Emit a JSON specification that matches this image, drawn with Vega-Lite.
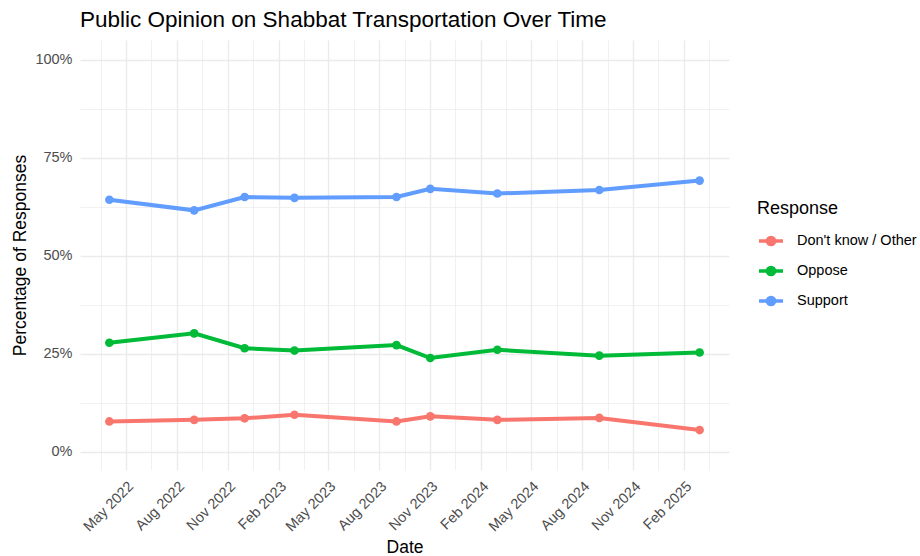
{
  "$schema": "https://vega.github.io/schema/vega-lite/v6.json",
  "width": 649,
  "height": 430,
  "autosize": {"type": "none"},
  "padding": {"left": 80, "top": 40, "right": 191, "bottom": 86},
  "background": "white",
  "title": {
    "text": "Public Opinion on Shabbat Transportation Over Time",
    "anchor": "start",
    "frame": "group",
    "baseline": "alphabetic",
    "offset": 13,
    "dy": 22,
    "fontSize": 22.5,
    "fontWeight": "normal",
    "font": "Liberation Sans",
    "color": "black"
  },
  "config": {
    "view": {"stroke": null},
    "font": "Liberation Sans",
    "axis": {
      "domain": false,
      "ticks": false,
      "gridColor": "#EBEBEB",
      "labelColor": "#4D4D4D",
      "labelFontSize": 14.5,
      "titleColor": "black",
      "titleFontSize": 17.5,
      "titleFontWeight": "normal"
    }
  },
  "data": {
    "values": [
      {"date": "2022-04-01", "response": "Support", "value": 64.3},
      {"date": "2022-09-01", "response": "Support", "value": 61.6},
      {"date": "2022-12-01", "response": "Support", "value": 65.0},
      {"date": "2023-03-01", "response": "Support", "value": 64.8},
      {"date": "2023-09-01", "response": "Support", "value": 65.0},
      {"date": "2023-11-01", "response": "Support", "value": 67.1},
      {"date": "2024-03-01", "response": "Support", "value": 65.9},
      {"date": "2024-09-01", "response": "Support", "value": 66.8},
      {"date": "2025-03-01", "response": "Support", "value": 69.2},
      {"date": "2022-04-01", "response": "Oppose", "value": 27.8},
      {"date": "2022-09-01", "response": "Oppose", "value": 30.2},
      {"date": "2022-12-01", "response": "Oppose", "value": 26.4},
      {"date": "2023-03-01", "response": "Oppose", "value": 25.8},
      {"date": "2023-09-01", "response": "Oppose", "value": 27.2},
      {"date": "2023-11-01", "response": "Oppose", "value": 23.9},
      {"date": "2024-03-01", "response": "Oppose", "value": 26.0},
      {"date": "2024-09-01", "response": "Oppose", "value": 24.5},
      {"date": "2025-03-01", "response": "Oppose", "value": 25.3},
      {"date": "2022-04-01", "response": "Don't know / Other", "value": 7.7},
      {"date": "2022-09-01", "response": "Don't know / Other", "value": 8.1},
      {"date": "2022-12-01", "response": "Don't know / Other", "value": 8.5},
      {"date": "2023-03-01", "response": "Don't know / Other", "value": 9.4},
      {"date": "2023-09-01", "response": "Don't know / Other", "value": 7.7},
      {"date": "2023-11-01", "response": "Don't know / Other", "value": 9.0},
      {"date": "2024-03-01", "response": "Don't know / Other", "value": 8.1},
      {"date": "2024-09-01", "response": "Don't know / Other", "value": 8.6},
      {"date": "2025-03-01", "response": "Don't know / Other", "value": 5.5}
    ]
  },
  "encoding": {
    "x": {
      "field": "date",
      "type": "temporal",
      "title": "Date",
      "scale": {
        "type": "utc",
        "domain": [1644192000000, 1745366400000]
      },
      "axis": {
        "values": [1647388800000, 1651363200000, 1655337600000, 1659312000000, 1663286400000, 1667260800000, 1671148800000, 1675209600000, 1679097600000, 1682899200000, 1686873600000, 1690848000000, 1694822400000, 1698796800000, 1702684800000, 1706745600000, 1710633600000, 1714521600000, 1718496000000, 1722470400000, 1726444800000, 1730419200000, 1734307200000, 1738368000000, 1742256000000],
        "labelExpr": "utcdate(datum.value) == 1 ? utcFormat(datum.value, '%b %Y') : ''",
        "labelOverlap": false,
        "labelAngle": -45,
        "labelAlign": "right",
        "labelBaseline": "top",
        "labelPadding": 9,
        "gridWidth": {"condition": {"test": "utcdate(datum.value) == 1", "value": 1.4}, "value": 0.7},
        "titlePadding": 5
      }
    },
    "y": {
      "field": "value",
      "type": "quantitative",
      "title": "Percentage of Responses",
      "scale": {"domain": [-4.7, 105.1], "nice": false, "zero": false},
      "axis": {
        "values": [0, 12.5, 25, 37.5, 50, 62.5, 75, 87.5, 100],
        "labelExpr": "datum.value % 25 == 0 ? datum.value + '%' : ''",
        "labelPadding": 8,
        "gridWidth": {"condition": {"test": "datum.value % 25 == 0", "value": 1.4}, "value": 0.7},
        "titlePadding": 5
      }
    },
    "color": {
      "field": "response",
      "type": "nominal",
      "title": "Response",
      "scale": {
        "domain": ["Don't know / Other", "Oppose", "Support"],
        "range": ["#F8766D", "#00BA38", "#619CFF"]
      },
      "legend": {
        "orient": "none",
        "legendX": 677,
        "legendY": 160,
        "titleFontSize": 18,
        "titleFontWeight": "normal",
        "titleColor": "black",
        "titlePadding": 9,
        "labelFontSize": 14.5,
        "labelColor": "black",
        "symbolType": "M-1,0L1,0M-0.3,0A0.3,0.3,0,1,1,0.3,0A0.3,0.3,0,1,1,-0.3,0Z",
        "symbolSize": 576,
        "symbolStrokeWidth": 3.5,
        "rowPadding": 5,
        "labelOffset": 12
      }
    }
  },
  "layer": [
    {"mark": {"type": "line", "strokeWidth": 4}},
    {"mark": {"type": "point", "filled": true, "size": 75, "opacity": 1}}
  ]
}
